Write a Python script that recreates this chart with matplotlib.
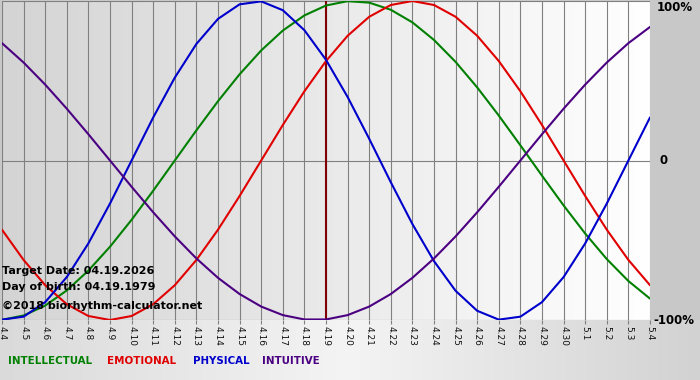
import numpy as np
import matplotlib.pyplot as plt
from matplotlib.colors import LinearSegmentedColormap

# day labels along the bottom (4.4 ... 5.4)
days = ["4.%d" % d for d in range(4, 31)] + ["5.%d" % d for d in range(1, 5)]
target_day = "4.19"

# cycle values per day (-1 .. 1)
intellectual = [-0.9989, -0.9718, -0.9096, -0.8146, -0.6901, -0.5406, -0.3717, -0.1893,
                0.0, 0.1893, 0.3717, 0.5406, 0.6901, 0.8146, 0.9096, 0.9718,
                0.9989, 0.9898, 0.9450, 0.8660, 0.7557, 0.6182, 0.4582, 0.2817,
                0.0951, -0.0951, -0.2817, -0.4582, -0.6182, -0.7557, -0.8660]
emotional = [-0.4339, -0.6235, -0.7818, -0.9010, -0.9749, -1.0, -0.9749, -0.9010,
             -0.7818, -0.6235, -0.4339, -0.2225, 0.0, 0.2225, 0.4339, 0.6235,
             0.7818, 0.9010, 0.9749, 1.0, 0.9749, 0.9010, 0.7818, 0.6235,
             0.4339, 0.2225, 0.0, -0.2225, -0.4339, -0.6235, -0.7818]
physical = [-0.9977, -0.9791, -0.8879, -0.7308, -0.5196, -0.2698, 0.0, 0.2698,
            0.5196, 0.7308, 0.8879, 0.9791, 0.9977, 0.9423, 0.8170, 0.6310,
            0.3984, 0.1362, -0.1362, -0.3984, -0.6310, -0.8170, -0.9423, -0.9977,
            -0.9791, -0.8879, -0.7308, -0.5196, -0.2698, 0.0, 0.2698]
intuitive = [0.7357, 0.6142, 0.4759, 0.3247, 0.1646, 0.0, -0.1646, -0.3247,
             -0.4759, -0.6142, -0.7357, -0.8372, -0.9158, -0.9694, -0.9966, -0.9966,
             -0.9694, -0.9158, -0.8372, -0.7357, -0.6142, -0.4759, -0.3247, -0.1646,
             0.0, 0.1646, 0.3247, 0.4759, 0.6142, 0.7357, 0.8372]

series = [
    ("INTELLECTUAL", intellectual, "#008000"),
    ("EMOTIONAL", emotional, "#e00000"),
    ("PHYSICAL", physical, "#0000cc"),
    ("INTUITIVE", intuitive, "#4b0082"),
]

W, H = 700, 380
fig = plt.figure(figsize=(W / 100, H / 100), dpi=100)
fig.patch.set_facecolor("#c8c8c8")

# light strip under the plot
bg = fig.add_axes([0, 0, 1, 60 / H], zorder=-5)
bg_cmap = LinearSegmentedColormap.from_list("bg", ["#dadada", "#f4f4f4", "#d2d2d2"])
bg.imshow(np.linspace(0, 1, 256)[None, :], cmap=bg_cmap, aspect="auto",
          extent=[0, 1, 0, 1])
bg.axis("off")

ax = fig.add_axes([2 / W, 60 / H, 648 / W, 319 / H])
x = np.arange(len(days))

# plot area gradient, darker on the left
pa_cmap = LinearSegmentedColormap.from_list("pa", ["#d4d4d4", "#ffffff"])
ax.imshow(np.linspace(0, 1, 256)[None, :], cmap=pa_cmap, aspect="auto",
          extent=[0, len(days) - 1, -1, 1], zorder=0)

for xi in x:
    ax.axvline(xi, color="#808080", lw=0.8, zorder=1)
for yv in (-1, 0, 1):
    ax.axhline(yv, color="#808080", lw=0.8, zorder=1)

ax.axvline(days.index(target_day), color="#800000", lw=1.5, zorder=2)

for name, vals, col in series:
    ax.plot(x, vals, color=col, lw=1.5, zorder=3, solid_capstyle="round")

ax.set_xlim(0, len(days) - 1)
ax.set_ylim(-1, 1)
for s in ax.spines.values():
    s.set_visible(False)
ax.set_xticks(x)
ax.set_xticklabels(days, rotation=270, fontsize=6.5, color="#111111")
ax.tick_params(axis="x", length=3, color="#808080", pad=1)
ax.tick_params(axis="y", left=False, labelleft=False)

tr = ax.get_yaxis_transform()
ax.text(1.01, 1, "100%", transform=tr, ha="left", va="top", fontsize=8.5,
        fontweight="bold", clip_on=False)
ax.text(1.015, 0, "0", transform=tr, ha="left", va="center", fontsize=8.5,
        fontweight="bold", clip_on=False)
ax.text(1.005, -1, "-100%", transform=tr, ha="left", va="center", fontsize=8.5,
        fontweight="bold", clip_on=False)

# info text in the lower left corner
info = ["Target Date: 04.19.2026", "Day of birth: 04.19.1979",
        "\u00a92018 biorhythm-calculator.net"]
for txt, py in zip(info, (271, 287, 306)):
    fig.text(2 / W, 1 - py / H, txt, ha="left", va="center", fontsize=8,
             fontweight="bold", color="black", zorder=10)

# coloured legend words
for (name, vals, col), px in zip(series, (8, 107, 193, 262)):
    fig.text(px / W, 1 - 361 / H, name, ha="left", va="center", fontsize=7.4,
             fontweight="bold", color=col)

fig.savefig("out.png", dpi=100, facecolor=fig.get_facecolor())
